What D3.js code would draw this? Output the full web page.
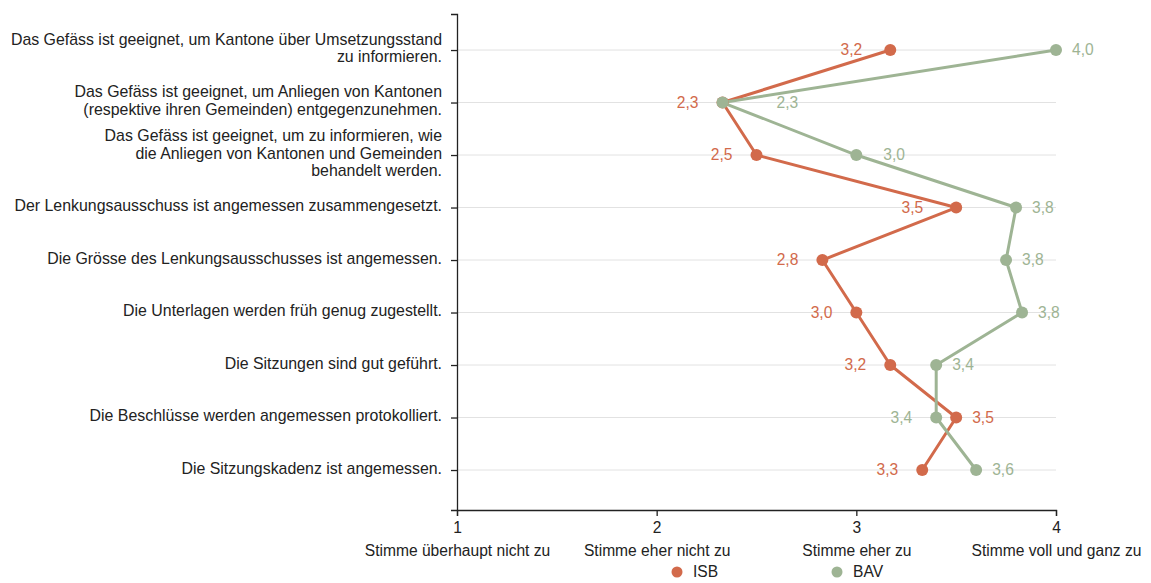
<!DOCTYPE html>
<html>
<head>
<meta charset="utf-8">
<script src="https://cdn.jsdelivr.net/npm/d3@7"></script>
<style>
  body { margin: 0; background: #fff; }
  svg { font-family: "Liberation Sans", Arial, sans-serif; }
</style>
</head>
<body>
<div id="chart-container"></div>
<script>
// Statements (each entry is a list of lines)
const statements = [
    ["Das Gefäss ist geeignet, um Kantone über Umsetzungsstand", "zu informieren."],
    ["Das Gefäss ist geeignet, um Anliegen von Kantonen", "(respektive ihren Gemeinden) entgegenzunehmen."],
    ["Das Gefäss ist geeignet, um zu informieren, wie", "die Anliegen von Kantonen und Gemeinden", "behandelt werden."],
    ["Der Lenkungsausschuss ist angemessen zusammengesetzt."],
    ["Die Grösse des Lenkungsausschusses ist angemessen."],
    ["Die Unterlagen werden früh genug zugestellt."],
    ["Die Sitzungen sind gut geführt."],
    ["Die Beschlüsse werden angemessen protokolliert."],
    ["Die Sitzungskadenz ist angemessen."]
];

const isbValues = [3.17, 2.33, 2.5, 3.5, 2.83, 3.0, 3.17, 3.5, 3.33];
const bavValues = [4.0, 2.33, 3.0, 3.8, 3.75, 3.83, 3.4, 3.4, 3.6];

const tickValues = [1, 2, 3, 4];
const tickLabels = ["Stimme überhaupt nicht zu", "Stimme eher nicht zu", "Stimme eher zu", "Stimme voll und ganz zu"];

const seriesNames = ["ISB", "BAV"];
const seriesColors = ["#d26a4b", "#9eb494"];

// Layout
const width = 1151, height = 583;
const plotLeft = 457, plotRight = 1056, plotTop = 14, plotBottom = 510;
const fontSize = 15.6;

const svg = d3.select("#chart-container")
    .append("svg")
    .attr("width", width)
    .attr("height", height);

const x = d3.scaleLinear().domain([1, 4]).range([plotLeft, plotRight]);
const y = d3.scalePoint()
    .domain(d3.range(statements.length))
    .range([plotTop, plotBottom])
    .padding(0.724)
    .align(0.474);

// Gridlines
svg.append("g")
    .selectAll("line")
    .data(d3.range(statements.length))
    .join("line")
    .attr("x1", plotLeft)
    .attr("x2", plotRight)
    .attr("y1", d => y(d))
    .attr("y2", d => y(d))
    .attr("stroke", "#e2e2e2")
    .attr("stroke-width", 1);

// Y axis
const yAxis = svg.append("g")
    .attr("transform", `translate(${plotLeft},0)`)
    .call(d3.axisLeft(y).tickSize(6).tickFormat(""));
yAxis.selectAll("path, line").attr("stroke", "#222").attr("stroke-width", 1.3);

// Category labels (multi-line, right aligned)
const lineH = 17.5;
const catLabels = svg.append("g")
    .selectAll("text")
    .data(statements)
    .join("text")
    .attr("text-anchor", "end")
    .attr("font-size", 15.9)
    .attr("fill", "#222")
    .attr("transform", (d, i) => `translate(442,${y(i)})`);
catLabels.selectAll("tspan")
    .data(d => d.map((t, j) => ({ t, j, n: d.length })))
    .join("tspan")
    .attr("x", 0)
    .attr("y", d => (d.j - (d.n - 1) / 2) * lineH - 2)
    .attr("dy", "0.35em")
    .text(d => d.t);

// X axis
const xAxis = svg.append("g")
    .attr("transform", `translate(0,${plotBottom})`)
    .call(d3.axisBottom(x).tickValues(tickValues).tickSize(6).tickFormat(d3.format("d")));
xAxis.selectAll("path, line").attr("stroke", "#222").attr("stroke-width", 1.3);
xAxis.selectAll("text")
    .attr("y", 12)
    .attr("font-size", fontSize)
    .attr("fill", "#222")
    .attr("font-family", "Liberation Sans, Arial, sans-serif");
xAxis.selectAll(".tick")
    .append("text")
    .attr("y", 46)
    .attr("fill", "#222")
    .attr("font-size", fontSize)
    .attr("font-family", "Liberation Sans, Arial, sans-serif")
    .text((d, i) => tickLabels[i]);

// Lines and points
const series = [isbValues, bavValues];
const line = d3.line()
    .x(d => x(d))
    .y((d, i) => y(i));

series.forEach((vals, s) => {
    svg.append("path")
        .datum(vals)
        .attr("fill", "none")
        .attr("stroke", seriesColors[s])
        .attr("stroke-width", 3)
        .attr("stroke-linejoin", "round")
        .attr("d", line);
});
series.forEach((vals, s) => {
    svg.append("g")
        .selectAll("circle")
        .data(vals)
        .join("circle")
        .attr("cx", d => x(d))
        .attr("cy", (d, i) => y(i))
        .attr("r", 6)
        .attr("fill", seriesColors[s]);
});

// Segments of both lines, for label collision checks
const segments = [];
series.forEach(vals => {
    for (let i = 0; i < vals.length - 1; i++) {
        segments.push([x(vals[i]), y(i), x(vals[i + 1]), y(i + 1)]);
    }
});

function hitsLine(x0, x1, y0, y1) {
    for (const [ax, ay, bx, by] of segments) {
        const n = Math.ceil(Math.hypot(bx - ax, by - ay));
        for (let k = 0; k <= n; k++) {
            const px = ax + (bx - ax) * k / n, py = ay + (by - ay) * k / n;
            if (px >= x0 && px <= x1 && py >= y0 && py <= y1) return true;
        }
    }
    return false;
}

// Value labels: the larger value goes right, the smaller left
const fmt = v => d3.format(".1f")(v).replace(".", ",");
const labelW = 22, pad = 3;
series.forEach((vals, s) => {
    const other = series[1 - s];
    vals.forEach((v, i) => {
        const onRight = s === 0 ? v > other[i] : v >= other[i];
        const px = x(v), py = y(i);
        let gap = onRight ? 16 : 24;
        while (gap < 80) {
            const x0 = onRight ? px + gap : px - gap - labelW;
            if (!hitsLine(x0 - pad, x0 + labelW + pad, py - 5 - pad, py + 5 + pad)) break;
            gap += 1;
        }
        svg.append("text")
            .attr("x", onRight ? px + gap : px - gap)
            .attr("y", py)
            .attr("dy", "0.35em")
            .attr("text-anchor", onRight ? "start" : "end")
            .attr("font-size", fontSize)
            .attr("fill", seriesColors[s])
            .text(fmt(v));
    });
});

// Legend
const legend = svg.append("g")
    .selectAll("g")
    .data(seriesNames)
    .join("g")
    .attr("transform", (d, i) => `translate(${677 + i * 160},572)`);
legend.append("circle")
    .attr("r", 5.5)
    .attr("fill", (d, i) => seriesColors[i]);
legend.append("text")
    .attr("x", 16)
    .attr("dy", "0.35em")
    .attr("font-size", fontSize)
    .attr("fill", "#222")
    .text(d => d);
</script>
</body>
</html>
